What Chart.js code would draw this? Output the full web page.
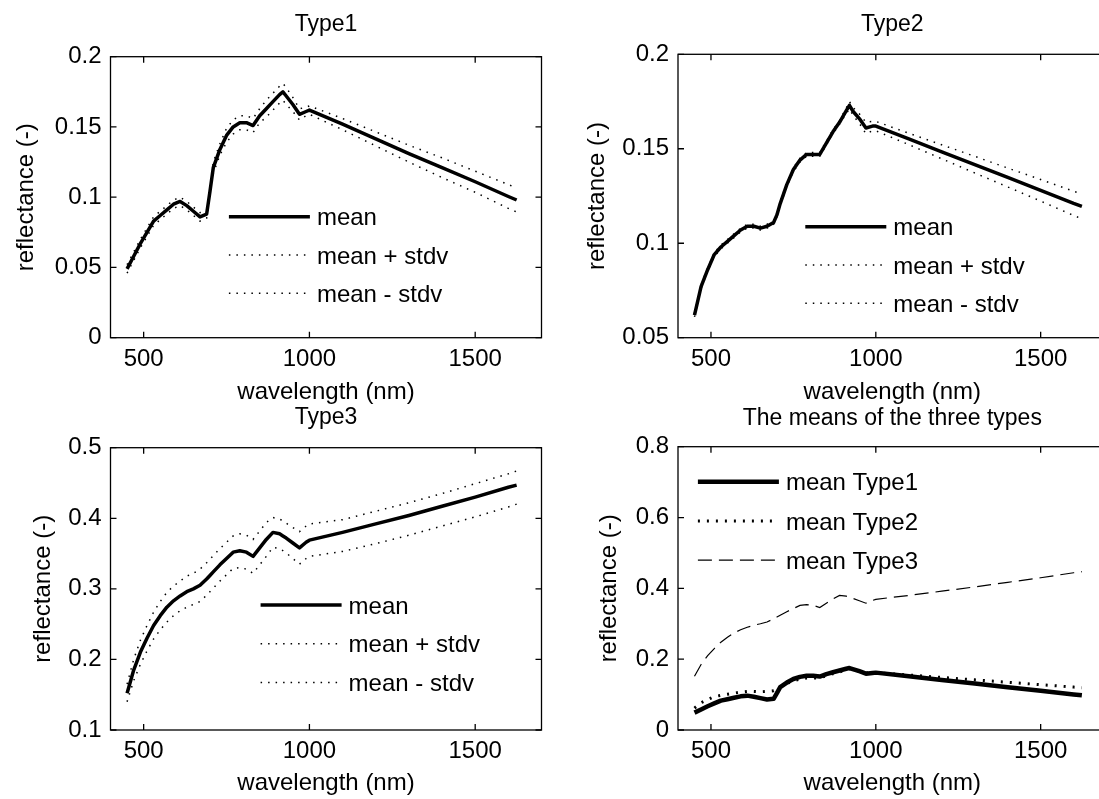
<!DOCTYPE html>
<html>
<head>
<meta charset="utf-8">
<script src="https://cdn.jsdelivr.net/npm/chart.js@4.4.1/dist/chart.umd.min.js"></script>
<style>
  html, body { margin: 0; padding: 0; background: #fff; overflow: hidden; }
  #fig { position: relative; width: 1099px; height: 799px; overflow: hidden; background: #fff; }
  #fig canvas { position: absolute; left: 0; top: 0; }
</style>
</head>
<body>
<div id="fig">
  <canvas id="chart-type1" width="1120" height="799"></canvas>
  <canvas id="chart-type2" width="1120" height="799"></canvas>
  <canvas id="chart-type3" width="1120" height="799"></canvas>
  <canvas id="chart-means" width="1120" height="799"></canvas>
</div>
<script>
// wavelengths (nm) shared by all spectra
const wavelength = [450, 470, 490, 510, 530, 550, 570, 590, 610, 630, 650, 670, 690, 700, 710, 730, 750, 770, 790, 810,
  830, 850, 870, 890, 910, 920, 930, 950, 970, 990, 1000, 1100, 1200, 1300, 1400, 1500, 1600, 1625];

const type1Mean = [0.049, 0.058, 0.067, 0.075, 0.083, 0.087, 0.091, 0.095, 0.097, 0.094, 0.090, 0.086, 0.088, 0.104, 0.121, 0.134, 0.144, 0.150, 0.153, 0.153,
  0.151, 0.158, 0.163, 0.168, 0.173, 0.175, 0.172, 0.166, 0.159, 0.161, 0.162, 0.152, 0.1415, 0.131, 0.121, 0.111, 0.1005, 0.098];
const type1Upper = [0.052, 0.061, 0.070, 0.078, 0.086, 0.090, 0.094, 0.098, 0.100, 0.097, 0.093, 0.089, 0.091, 0.107, 0.125, 0.138, 0.149, 0.155, 0.158, 0.158,
  0.156, 0.163, 0.169, 0.174, 0.179, 0.181, 0.178, 0.171, 0.163, 0.164, 0.165, 0.156, 0.1465, 0.137, 0.128, 0.1185, 0.109, 0.1065];
const type1Lower = [0.046, 0.055, 0.064, 0.072, 0.080, 0.084, 0.088, 0.092, 0.094, 0.091, 0.087, 0.083, 0.085, 0.101, 0.117, 0.130, 0.139, 0.145, 0.148, 0.148,
  0.146, 0.153, 0.157, 0.162, 0.167, 0.169, 0.166, 0.161, 0.155, 0.158, 0.159, 0.148, 0.1365, 0.125, 0.114, 0.1035, 0.092, 0.0895];

const type2Mean = [0.062, 0.077, 0.086, 0.094, 0.098, 0.101, 0.104, 0.107, 0.109, 0.109, 0.108, 0.109, 0.111, 0.115, 0.121, 0.131, 0.139, 0.144, 0.147, 0.147,
  0.147, 0.153, 0.159, 0.164, 0.170, 0.173, 0.170, 0.166, 0.161, 0.162, 0.162, 0.1552, 0.1484, 0.1416, 0.1348, 0.128, 0.1211, 0.1195];
const type2Upper = [0.063, 0.078, 0.087, 0.095, 0.099, 0.102, 0.105, 0.108, 0.110, 0.110, 0.109, 0.110, 0.112, 0.116, 0.122, 0.132, 0.140, 0.145, 0.148, 0.148,
  0.148, 0.154, 0.160, 0.165, 0.1715, 0.175, 0.172, 0.1685, 0.164, 0.1645, 0.1645, 0.1582, 0.1521, 0.146, 0.1398, 0.1337, 0.1275, 0.1261];
const type2Lower = [0.061, 0.076, 0.085, 0.093, 0.097, 0.100, 0.103, 0.106, 0.108, 0.108, 0.107, 0.108, 0.110, 0.114, 0.120, 0.130, 0.138, 0.143, 0.146, 0.146,
  0.146, 0.152, 0.158, 0.163, 0.1685, 0.171, 0.168, 0.1635, 0.158, 0.1595, 0.1595, 0.1522, 0.1447, 0.1372, 0.1298, 0.1223, 0.1147, 0.1129];

const type3Mean = [0.152, 0.185, 0.210, 0.230, 0.248, 0.262, 0.274, 0.283, 0.290, 0.296, 0.300, 0.305, 0.314, 0.319, 0.324, 0.334, 0.343, 0.352, 0.354, 0.352,
  0.346, 0.358, 0.370, 0.380, 0.378, 0.375, 0.372, 0.365, 0.358, 0.366, 0.369, 0.380, 0.392, 0.404, 0.417, 0.430, 0.444, 0.447];
const type3Upper = [0.165, 0.200, 0.227, 0.248, 0.267, 0.282, 0.295, 0.304, 0.311, 0.318, 0.322, 0.328, 0.337, 0.342, 0.347, 0.357, 0.366, 0.375, 0.378, 0.376,
  0.370, 0.382, 0.394, 0.401, 0.399, 0.396, 0.393, 0.387, 0.381, 0.389, 0.392, 0.398, 0.410, 0.422, 0.435, 0.449, 0.463, 0.467];
const type3Lower = [0.140, 0.170, 0.193, 0.212, 0.229, 0.242, 0.253, 0.262, 0.269, 0.274, 0.278, 0.282, 0.291, 0.296, 0.301, 0.311, 0.320, 0.329, 0.330, 0.328,
  0.322, 0.334, 0.346, 0.359, 0.357, 0.354, 0.351, 0.343, 0.335, 0.343, 0.346, 0.353, 0.364, 0.376, 0.389, 0.402, 0.416, 0.420];

// ticks and labels
const xTicks = [500, 1000, 1500];
const yTicksType1 = [0, 0.05, 0.1, 0.15, 0.2];
const yTicksType2 = [0.05, 0.1, 0.15, 0.2];
const yTicksType3 = [0.1, 0.2, 0.3, 0.4, 0.5];
const yTicksMeans = [0, 0.2, 0.4, 0.6, 0.8];
const titles = ['Type1', 'Type2', 'Type3', 'The means of the three types'];
const xLabel = 'wavelength (nm)';
const yLabel = 'reflectance (-)';
const bandLabels = ['mean', 'mean + stdv', 'mean - stdv'];
const meansLabels = ['mean Type1', 'mean Type2', 'mean Type3'];

const FONT = "'Liberation Sans', Arial, Helvetica, sans-serif";

function pts(ys) {
  return wavelength.map((x, i) => ({ x, y: ys[i] }));
}

function solid(label, ys, width) {
  return { label, data: pts(ys), borderColor: '#000', borderWidth: width, pointRadius: 0, tension: 0, borderJoinStyle: 'round' };
}
function dotted(label, ys, width, dash) {
  return { label, data: pts(ys), borderColor: '#000', borderWidth: width, borderDash: dash, pointRadius: 0, tension: 0 };
}

// matlab style axes box with inward ticks on all sides
const boxPlugin = {
  id: 'matBox',
  afterDatasetsDraw(chart) {
    const { ctx, chartArea: a, scales } = chart;
    const len = 6;
    ctx.save();
    ctx.strokeStyle = '#000';
    ctx.lineWidth = 1.3;
    ctx.setLineDash([]);
    ctx.strokeRect(a.left, a.top, a.right - a.left, a.bottom - a.top);
    ctx.beginPath();
    scales.x.ticks.forEach(t => {
      const px = scales.x.getPixelForValue(t.value);
      ctx.moveTo(px, a.bottom); ctx.lineTo(px, a.bottom - len);
      ctx.moveTo(px, a.top); ctx.lineTo(px, a.top + len);
    });
    scales.y.ticks.forEach(t => {
      const py = scales.y.getPixelForValue(t.value);
      ctx.moveTo(a.left, py); ctx.lineTo(a.left + len, py);
      ctx.moveTo(a.right, py); ctx.lineTo(a.right - len, py);
    });
    ctx.stroke();
    ctx.restore();
  }
};

// legend drawn inside the axes, like matlab
const boxLegend = {
  id: 'boxLegend',
  afterDatasetsDraw(chart, args, opts) {
    const { ctx, chartArea: a } = chart;
    ctx.save();
    ctx.font = `${opts.fontSize}px ${FONT}`;
    ctx.textBaseline = 'middle';
    ctx.fillStyle = '#000';
    chart.data.datasets.forEach((ds, i) => {
      const y = a.top + opts.top + i * opts.rowGap;
      const x0 = a.left + opts.left;
      ctx.strokeStyle = ds.borderColor;
      ctx.lineWidth = ds.borderWidth;
      ctx.setLineDash(ds.borderDash || []);
      ctx.beginPath();
      ctx.moveTo(x0, y);
      ctx.lineTo(x0 + opts.sample, y);
      ctx.stroke();
      ctx.fillText(ds.label, x0 + opts.sample + opts.textGap, y + 2);
    });
    ctx.restore();
  }
};

function makeChart(id, cfg) {
  return new Chart(document.getElementById(id), {
    type: 'line',
    data: { datasets: cfg.datasets },
    options: {
      responsive: false,
      animation: false,
      events: [],
      layout: { padding: cfg.padding },
      plugins: {
        legend: { display: false },
        tooltip: { enabled: false },
        title: {
          display: true, text: cfg.title, fullSize: false, color: '#000',
          font: { family: FONT, size: 23, weight: 'normal' },
          padding: cfg.titlePad
        },
        boxLegend: cfg.legend
      },
      scales: {
        x: {
          type: 'linear', min: 400, max: 1700,
          afterBuildTicks: s => { s.ticks = xTicks.map(v => ({ value: v })); },
          afterFit: s => { s.height = 69; },
          grid: { display: false, drawTicks: false },
          border: { display: false },
          ticks: { color: '#000', font: { family: FONT, size: 24 }, padding: 7, maxRotation: 0, callback: v => String(v) },
          title: { display: true, text: xLabel, color: '#000', font: { family: FONT, size: 24 }, padding: { top: 0, bottom: cfg.xTitlePad } }
        },
        y: {
          type: 'linear', min: cfg.yTicks[0], max: cfg.yTicks[cfg.yTicks.length - 1],
          afterBuildTicks: s => { s.ticks = cfg.yTicks.map(v => ({ value: v })); },
          afterFit: s => { s.width = cfg.yWidth; },
          grid: { display: false, drawTicks: false },
          border: { display: false },
          ticks: { color: '#000', font: { family: FONT, size: 24 }, padding: 9, callback: v => String(v) },
          title: { display: true, text: yLabel, color: '#000', font: { family: FONT, size: 24 }, padding: { top: 0, bottom: 0 } }
        }
      }
    },
    plugins: [boxPlugin, boxLegend]
  });
}

makeChart('chart-type1', {
  title: titles[0], yTicks: yTicksType1,
  datasets: [
    solid(bandLabels[0], type1Mean, 3.5),
    dotted(bandLabels[1], type1Upper, 1.5, [1.5, 6]),
    dotted(bandLabels[2], type1Lower, 1.5, [1.5, 6])
  ],
  padding: { left: 12.1, right: 578.5, top: 0, bottom: 392.3 },
  yWidth: 98.4, titlePad: { top: 10.9, bottom: 18.2 }, xTitlePad: 0,
  legend: { left: 118.4, top: 160, rowGap: 38.3, sample: 81, textGap: 7, fontSize: 24 }
});

makeChart('chart-type2', {
  title: titles[1], yTicks: yTicksType2,
  datasets: [
    solid(bandLabels[0], type2Mean, 3.5),
    dotted(bandLabels[1], type2Upper, 1.5, [1.5, 6]),
    dotted(bandLabels[2], type2Lower, 1.5, [1.5, 6])
  ],
  padding: { left: 582.6, right: 13.4, top: 0, bottom: 392.3 },
  yWidth: 95.4, titlePad: { top: 10.9, bottom: 15.8 }, xTitlePad: 0,
  legend: { left: 127.3, top: 172.4, rowGap: 38.3, sample: 81, textGap: 7, fontSize: 24 }
});

makeChart('chart-type3', {
  title: titles[2], yTicks: yTicksType3,
  datasets: [
    solid(bandLabels[0], type3Mean, 3.5),
    dotted(bandLabels[1], type3Upper, 1.5, [1.5, 6]),
    dotted(bandLabels[2], type3Lower, 1.5, [1.5, 6])
  ],
  padding: { left: 28.6, right: 578.5, top: 0, bottom: 0 },
  yWidth: 81.9, titlePad: { top: 404.2, bottom: 15.9 }, xTitlePad: 1.6,
  legend: { left: 150.1, top: 157.3, rowGap: 38.8, sample: 81, textGap: 7, fontSize: 24 }
});

makeChart('chart-means', {
  title: titles[3], yTicks: yTicksMeans,
  datasets: [
    solid(meansLabels[0], type1Mean, 4.5),
    dotted(meansLabels[1], type2Mean, 3, [2, 7]),
    dotted(meansLabels[2], type3Mean, 1.2, [14, 7])
  ],
  padding: { left: 594.6, right: 13.4, top: 0, bottom: 0 },
  yWidth: 83.4, titlePad: { top: 404.7, bottom: 14.4 }, xTitlePad: 1.6,
  legend: { left: 19.9, top: 35, rowGap: 39.2, sample: 81, textGap: 7, fontSize: 24 }
});
</script>
</body>
</html>
